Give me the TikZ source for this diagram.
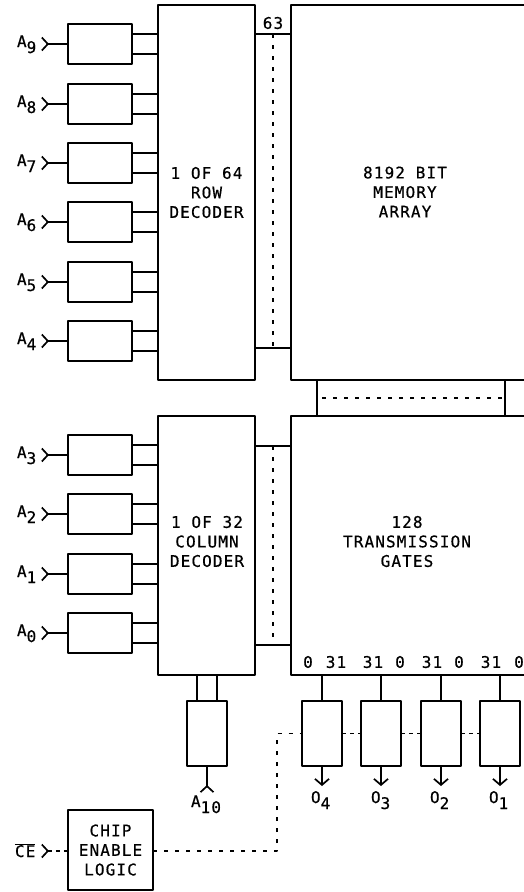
\documentclass[tikz,border=0pt]{standalone}
\usepackage{fontspec}
\usepackage{tikz}
\usetikzlibrary{positioning, arrows.meta}
\setmainfont[LetterSpace=7, FakeBold=0.6]{DejaVu Sans Mono}
\newcommand{\sigsub}[2]{#1\raisebox{-6pt}{#2}}

\begin{document}
\begin{tikzpicture}[
                    x=1pt, y=-1pt,
                    line width=1.7pt,
                    line join=round,
                    every node/.style={font=\fontsize{16}{19.5}\selectfont, inner sep=0pt, outer sep=0pt, align=center},
                    blockbox/.style={draw, rectangle},
                    bufbox/.style={blockbox, minimum width=64pt, minimum height=40pt},
                    outbox/.style={blockbox, minimum width=40pt, minimum height=65pt},
                    siglabel/.style={anchor=base west},
                    busdash/.style={dash pattern=on 4pt off 7pt},
                    chaindash/.style={dash pattern=on 4pt off 4pt},
                    pinin/.style={{Straight Barb[reversed, length=6pt, width=13pt, line width=1.7pt]}-},
                    pinout/.style={-{Straight Barb[length=6pt, width=14pt, line width=1.7pt]}}
                ]
                  \useasboundingbox (0,0) rectangle (524,892);

                  % decoders and array
                  \node[blockbox, minimum width=97pt, minimum height=375pt] (rowdec) at (206.5,192.5) {1 OF 64\\ROW\\DECODER};
                  \node[blockbox, minimum width=97pt, minimum height=259pt] (coldec) at (206.5,545.5) {};
                  \node[blockbox, minimum width=236pt, minimum height=375pt] (memarray) at (409,192.5) {};
                  \node[blockbox, minimum width=236pt, minimum height=259pt] (gates) at (409,545.5) {};
                  \node[blockbox, minimum width=188pt, minimum height=36pt] (link) at (411,398) {};
                  \node (coltext) at (207,541.5) {1 OF 32\\COLUMN\\DECODER};
                  \node (memtext) at (405,192) {8192 BIT\\MEMORY\\ARRAY};
                  \node (gatetext) at (407,541.5) {128\\TRANSMISSION\\GATES};

                  % address buffers
                  \node[bufbox] (bufa9) at (100,44) {};
                  \node[bufbox] (bufa8) at (100,104) {};
                  \node[bufbox] (bufa7) at (100,163) {};
                  \node[bufbox] (bufa6) at (100,222) {};
                  \node[bufbox] (bufa5) at (100,282) {};
                  \node[bufbox] (bufa4) at (100,341) {};
                  \node[bufbox] (bufa3) at (100,455) {};
                  \node[bufbox] (bufa2) at (100,514) {};
                  \node[bufbox] (bufa1) at (100,574) {};
                  \node[bufbox] (bufa0) at (100,633) {};
                  \node[outbox] (bufa10) at (207,733.5) {};

                  % address labels
                  \node[siglabel] (laba9) at (17,47) {\sigsub{A}{9}};
                  \node[siglabel] (laba8) at (17,107) {\sigsub{A}{8}};
                  \node[siglabel] (laba7) at (17,166) {\sigsub{A}{7}};
                  \node[siglabel] (laba6) at (17,225) {\sigsub{A}{6}};
                  \node[siglabel] (laba5) at (17,285) {\sigsub{A}{5}};
                  \node[siglabel] (laba4) at (17,344) {\sigsub{A}{4}};
                  \node[siglabel] (laba3) at (17,458) {\sigsub{A}{3}};
                  \node[siglabel] (laba2) at (17,517) {\sigsub{A}{2}};
                  \node[siglabel] (laba1) at (17,577) {\sigsub{A}{1}};
                  \node[siglabel] (laba0) at (17,636) {\sigsub{A}{0}};
                  \node[siglabel] (laba10) at (191,807) {\sigsub{A}{10}};

                  % address inputs
                  \coordinate (pina9) at (41,44);
                  \coordinate (pina8) at (41,104);
                  \coordinate (pina7) at (41,163);
                  \coordinate (pina6) at (41,222);
                  \coordinate (pina5) at (41,282);
                  \coordinate (pina4) at (41,341);
                  \coordinate (pina3) at (41,455);
                  \coordinate (pina2) at (41,514);
                  \coordinate (pina1) at (41,574);
                  \coordinate (pina0) at (41,633);
                  \coordinate (pina10) at (207,793);
                  \draw[pinin] (pina9) -- (bufa9);
                  \draw[pinin] (pina8) -- (bufa8);
                  \draw[pinin] (pina7) -- (bufa7);
                  \draw[pinin] (pina6) -- (bufa6);
                  \draw[pinin] (pina5) -- (bufa5);
                  \draw[pinin] (pina4) -- (bufa4);
                  \draw[pinin] (pina3) -- (bufa3);
                  \draw[pinin] (pina2) -- (bufa2);
                  \draw[pinin] (pina1) -- (bufa1);
                  \draw[pinin] (pina0) -- (bufa0);
                  \draw[pinin] (pina10) -- (bufa10);

                  % true and complement lines
                  \draw ([yshift=10pt]bufa9.east) -- ([yshift=10pt]bufa9.east -| rowdec.west);
                  \draw ([yshift=-10pt]bufa9.east) -- ([yshift=-10pt]bufa9.east -| rowdec.west);
                  \draw ([yshift=10pt]bufa8.east) -- ([yshift=10pt]bufa8.east -| rowdec.west);
                  \draw ([yshift=-10pt]bufa8.east) -- ([yshift=-10pt]bufa8.east -| rowdec.west);
                  \draw ([yshift=10pt]bufa7.east) -- ([yshift=10pt]bufa7.east -| rowdec.west);
                  \draw ([yshift=-10pt]bufa7.east) -- ([yshift=-10pt]bufa7.east -| rowdec.west);
                  \draw ([yshift=10pt]bufa6.east) -- ([yshift=10pt]bufa6.east -| rowdec.west);
                  \draw ([yshift=-10pt]bufa6.east) -- ([yshift=-10pt]bufa6.east -| rowdec.west);
                  \draw ([yshift=10pt]bufa5.east) -- ([yshift=10pt]bufa5.east -| rowdec.west);
                  \draw ([yshift=-10pt]bufa5.east) -- ([yshift=-10pt]bufa5.east -| rowdec.west);
                  \draw ([yshift=10pt]bufa4.east) -- ([yshift=10pt]bufa4.east -| rowdec.west);
                  \draw ([yshift=-10pt]bufa4.east) -- ([yshift=-10pt]bufa4.east -| rowdec.west);
                  \draw ([yshift=10pt]bufa3.east) -- ([yshift=10pt]bufa3.east -| coldec.west);
                  \draw ([yshift=-10pt]bufa3.east) -- ([yshift=-10pt]bufa3.east -| coldec.west);
                  \draw ([yshift=10pt]bufa2.east) -- ([yshift=10pt]bufa2.east -| coldec.west);
                  \draw ([yshift=-10pt]bufa2.east) -- ([yshift=-10pt]bufa2.east -| coldec.west);
                  \draw ([yshift=10pt]bufa1.east) -- ([yshift=10pt]bufa1.east -| coldec.west);
                  \draw ([yshift=-10pt]bufa1.east) -- ([yshift=-10pt]bufa1.east -| coldec.west);
                  \draw ([yshift=10pt]bufa0.east) -- ([yshift=10pt]bufa0.east -| coldec.west);
                  \draw ([yshift=-10pt]bufa0.east) -- ([yshift=-10pt]bufa0.east -| coldec.west);
                  \draw ([xshift=-10pt]bufa10.north) -- ([xshift=-10pt]bufa10.north |- coldec.south);
                  \draw ([xshift=10pt]bufa10.north) -- ([xshift=10pt]bufa10.north |- coldec.south);

                  % row and column buses
                  \coordinate (rowtop) at (273,34);
                  \coordinate (rowbot) at (273,348);
                  \coordinate (coltop) at (273,446);
                  \coordinate (colbot) at (273,645);
                  \draw (rowtop -| rowdec.east) -- (rowtop -| memarray.west);
                  \draw (rowbot -| rowdec.east) -- (rowbot -| memarray.west);
                  \draw (coltop -| coldec.east) -- (coltop -| gates.west);
                  \draw (colbot -| coldec.east) -- (colbot -| gates.west);
                  \draw[busdash] (rowtop) -- (rowbot);
                  \draw[busdash] (coltop) -- (colbot);
                  \node (bus63) at (273,23) {63};

                  % link between array and gates
                  \coordinate (linkdash) at (322,398);
                  \draw[busdash] (linkdash) -- (link.east);

                  % output buffers
                  \node[outbox] (outb4) at (322,733.5) {};
                  \node[outbox] (outb3) at (381,733.5) {};
                  \node[outbox] (outb2) at (441,733.5) {};
                  \node[outbox] (outb1) at (500,733.5) {};
                  \draw (outb4.north) -- (outb4.north |- gates.south);
                  \draw (outb3.north) -- (outb3.north |- gates.south);
                  \draw (outb2.north) -- (outb2.north |- gates.south);
                  \draw (outb1.north) -- (outb1.north |- gates.south);
                  \coordinate (pino4) at (322,786);
                  \coordinate (pino3) at (381,786);
                  \coordinate (pino2) at (441,786);
                  \coordinate (pino1) at (500,786);
                  \draw[pinout] (outb4) -- (pino4);
                  \draw[pinout] (outb3) -- (pino3);
                  \draw[pinout] (outb2) -- (pino2);
                  \draw[pinout] (outb1) -- (pino1);
                  \node[siglabel] (labo4) at (311,803) {\sigsub{O}{4}};
                  \node[siglabel] (labo3) at (371,803) {\sigsub{O}{3}};
                  \node[siglabel] (labo2) at (430,803) {\sigsub{O}{2}};
                  \node[siglabel] (labo1) at (489,803) {\sigsub{O}{1}};

                  % bit numbers
                  \node (bita) at (308,662) {0};
                  \node (bitb) at (336,662) {31};
                  \node (bitc) at (373,662) {31};
                  \node (bitd) at (400,662) {0};
                  \node (bite) at (432,662) {31};
                  \node (bitf) at (459,662) {0};
                  \node (bitg) at (491,662) {31};
                  \node (bith) at (519,662) {0};

                  % chip enable
                  \node[blockbox, minimum width=85pt, minimum height=80pt] (celogic) at (110.5,850) {CHIP\\ENABLE\\LOGIC};
                  \node[siglabel] (labce) at (15,857) {$\overline{\hbox{CE}}$};
                  \coordinate (pince) at (41,851);
                  \coordinate (cecorner) at (277,851);
                  \coordinate (oecorner) at (277,733.5);
                  \draw[pinin, chaindash] (pince) -- (pince -| celogic.west);
                  \draw[busdash] (cecorner -| celogic.east) -- (cecorner) -- (oecorner) -- (outb4.west);
                  \draw[chaindash] (outb4.east) -- (outb3.west);
                  \draw[chaindash] (outb3.east) -- (outb2.west);
                  \draw[chaindash] (outb2.east) -- (outb1.west);
                \end{tikzpicture}
\end{document}
